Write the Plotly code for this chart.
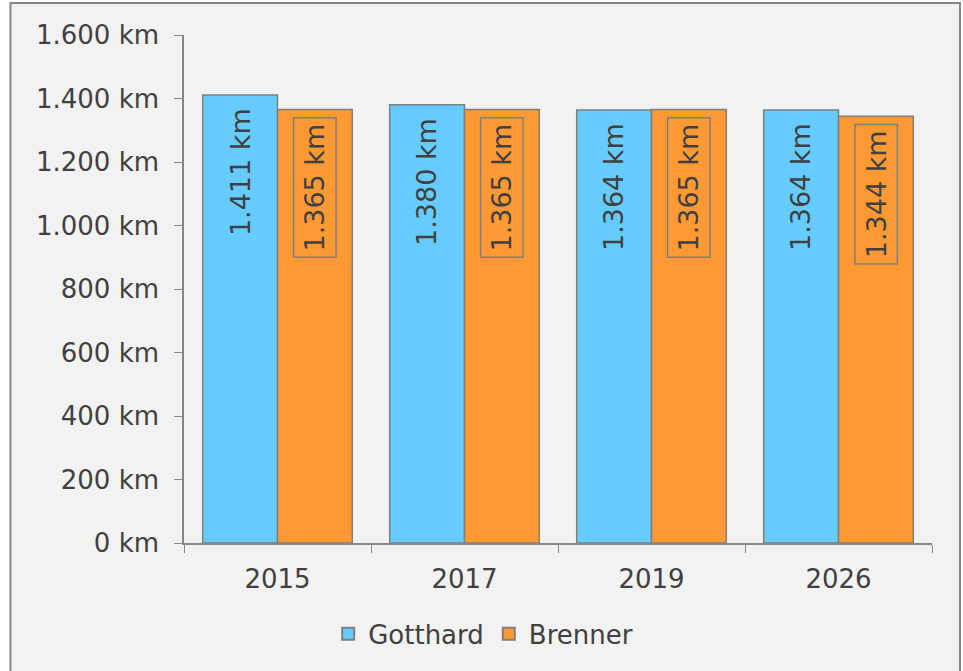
import plotly.graph_objects as go

years = ["2015", "2017", "2019", "2026"]
gotthard = [1411, 1380, 1364, 1364]
brenner = [1365, 1365, 1365, 1344]
y_ticks = [0, 200, 400, 600, 800, 1000, 1200, 1400, 1600]

FONT = "Verdana, DejaVu Sans, sans-serif"
TXT = "#404040"
EDGE = "#7f7f7f"


def km(v):
    return f"{v:,}".replace(",", ".") + " km"


fig = go.Figure()
fig.add_trace(go.Bar(x=years, y=gotthard, name="Gotthard",
                     marker=dict(color="#66ccff", line=dict(color=EDGE, width=1.5))))
fig.add_trace(go.Bar(x=years, y=brenner, name="Brenner",
                     marker=dict(color="#ff9933", line=dict(color=EDGE, width=1.5))))

# value labels, rotated, just under the top of each bar
for i, (g, b) in enumerate(zip(gotthard, brenner)):
    fig.add_annotation(x=i - 0.2, y=g, text=km(g), textangle=-90, showarrow=False,
                       yanchor="top", yshift=-11, font=dict(size=27, color=TXT, family=FONT))
    fig.add_annotation(x=i + 0.2, y=b, text=km(b), textangle=-90, showarrow=False,
                       yanchor="top", yshift=-7, bordercolor=EDGE, borderwidth=1.5,
                       borderpad=5, font=dict(size=27, color=TXT, family=FONT))

# grey frame around the chart
fig.add_shape(type="rect", xref="paper", yref="paper", layer="below",
              x0=-0.232, x1=1.0374, y0=-0.27, y1=1.063,
              fillcolor="#f2f2f2", line=dict(color="#868686", width=2))

fig.update_layout(
    width=963, height=671,
    margin=dict(l=184, r=31, t=35, b=128),
    paper_bgcolor="white", plot_bgcolor="rgba(0,0,0,0)",
    barmode="group", bargap=0.2, bargroupgap=0,
    font=dict(family=FONT, size=26, color=TXT),
    showlegend=True,
    legend=dict(orientation="h", x=0.4, xanchor="center", y=-0.179, yanchor="middle",
                bgcolor="rgba(0,0,0,0)", font=dict(size=26, color=TXT),
                itemsizing="constant", traceorder="normal", itemwidth=30),
    xaxis=dict(showline=True, linecolor="#868686", linewidth=1.5, ticks="outside",
               tickson="boundaries", ticklen=8, tickcolor="#868686", showgrid=False,
               ticklabelstandoff=12, tickfont=dict(size=26, color=TXT)),
    yaxis=dict(range=[0, 1600], tickvals=y_ticks, ticktext=[km(v) for v in y_ticks],
               showline=True, linecolor="#868686", linewidth=1.5, ticks="outside",
               ticklen=8, tickcolor="#868686", showgrid=False, zeroline=False,
               ticklabelstandoff=10, tickfont=dict(size=26, color=TXT)),
)

fig.write_html("out.html", config={"displayModeBar": False},
               post_script="document.body.style.margin = '0';")
